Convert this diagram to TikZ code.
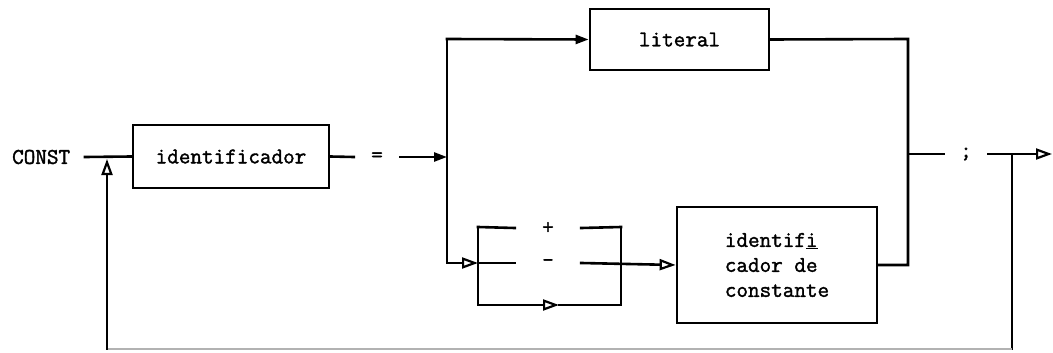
\documentclass[tikz,border=0pt]{standalone}
\usepackage{fontspec}
\newfontfamily\twfont[FakeBold=1.6]{Latin Modern Mono}
\usetikzlibrary{arrows.meta}
\tikzset{
  ln/.style={line width=2.6pt, line cap=rect},
  txt/.style={font=\twfont\fontsize{22.5}{25}\selectfont, inner sep=0pt},
  termbox/.style={draw, line width=2.8pt, txt},
  sym/.style={txt, minimum height=20pt},
  openarr/.style={-{Triangle[open, length=16pt, width=11pt, line width=2.2pt]}},
  fillarr/.style={-{Triangle[length=13pt, width=9pt]}},
}
\begin{document}
\begin{tikzpicture}[x=1pt, y=-1pt]
\useasboundingbox[fill=white] (0,0) rectangle (1053,353);

% nodes
\node[txt, anchor=west] (const) at (12,157) {CONST};
\node[termbox, minimum width=196pt, minimum height=63pt] (id) at (231,156.5) {identificador};
\node[sym, minimum width=46pt] (eq) at (377,157) {=};
\node[termbox, minimum width=179pt, minimum height=61pt] (lit) at (679.5,39.5) {literal};
\node[termbox, minimum width=200pt, minimum height=116pt, align=left] (ic) at (777,265)
  {identif\underline{i}\\cador de\\constante};
\node[sym, minimum width=66pt] (plus) at (548,228) {+};
\node[sym, minimum width=66pt] (minus) at (548,263) {-};
\node[sym, minimum width=44pt] (semi) at (966,154) {;};

% coordinates
\coordinate (cstart) at (85,157);
\coordinate (jin) at (447,157);
\coordinate (jtop) at (447,39);
\coordinate (jbot) at (447,263);
\coordinate (sl) at (478,263);
\coordinate (slt) at (478,227);
\coordinate (slb) at (478,305);
\coordinate (srt) at (621,227);
\coordinate (srb) at (621,305);
\coordinate (bmid) at (559,305);
\coordinate (rtop) at (908,39);
\coordinate (rmid) at (908,154);
\coordinate (rbot) at (908,265);
\coordinate (out) at (1052,154);
\coordinate (lr) at (1012,154);
\coordinate (lrb) at (1012,349);
\coordinate (llb) at (107,349);
\coordinate (lup) at (107,159);

% main path
\draw[ln] (cstart) -- (id.west);
\draw[ln] (id.east) -- (eq.west);
\draw[ln, fillarr] (eq.east) -- (jin);
\draw[ln] (jtop) -- (jbot);
\draw[ln, fillarr] (jtop) -- (lit.west);
\draw[ln, openarr] (jbot) -- (sl);

% sign box
\draw[ln] (slt) -- (slb);
\draw[ln] (srt) -- (srb);
\draw[ln] (slt) -- (plus.west);
\draw[ln] (plus.east) -- (srt);
\draw[ln] (sl) -- (minus.west);
\draw[ln, openarr] (minus.east) -- (ic.west);
\draw[ln, openarr] (slb) -- (bmid);
\draw[ln] (bmid) -- (srb);

% right side
\draw[ln] (lit.east) -- (rtop) -- (rbot) -- (ic.east);
\draw[ln] (rmid) -- (semi.west);
\draw[ln, openarr] (semi.east) -- (out);

% loop back
\draw[ln] (lr) -- (lrb);
\draw[line width=1.6pt, black!30] (lrb) -- (llb);
\draw[ln, openarr] (llb) -- (lup);
\end{tikzpicture}
\end{document}
